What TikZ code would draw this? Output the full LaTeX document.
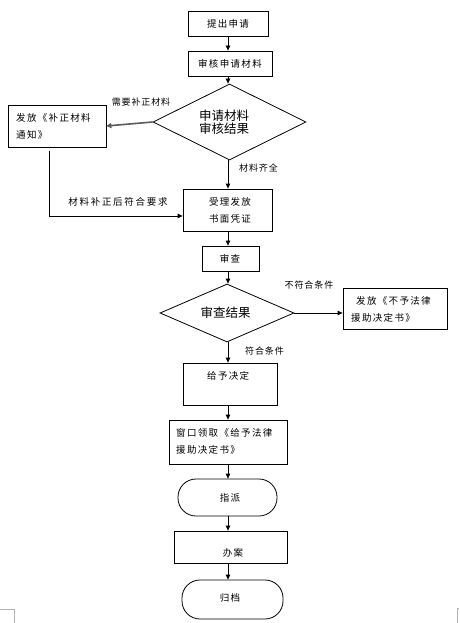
\documentclass[tikz,border=0pt]{standalone}
\usepackage{fontspec}
\setmainfont{Noto Sans CJK SC}
\usetikzlibrary{shapes.geometric,arrows.meta}
\begin{document}
\begin{tikzpicture}[x=1pt,y=-1pt,
  box/.style={draw,line width=0.8pt,inner sep=0pt,rectangle},
  stad/.style={draw,line width=0.8pt,inner sep=0pt,rectangle,rounded corners=18pt},
  dia/.style={draw,line width=0.8pt,diamond,inner sep=0pt,font=\fontsize{12}{14}\selectfont},
  txt/.style={font=\fontsize{9.5}{17}\selectfont\addfontfeatures{LetterSpace=14},inner sep=0pt},
  lbl/.style={font=\fontsize{9}{11}\selectfont\addfontfeatures{LetterSpace=10},inner sep=0pt},
  arr/.style={draw,line width=0.8pt,-{Triangle[length=5pt,width=4.5pt]}}]
\useasboundingbox (0,0) rectangle (459,623);
% boxes
\node[box,minimum width=80pt,minimum height=25pt] (b1) at (228,23.5) {};
\node[txt] at (228,23.5) {提出申请};
\node[box,minimum width=84pt,minimum height=25pt] (b2) at (230,63.5) {};
\node[txt] at (230,63.5) {审核申请材料};
\node[dia,minimum width=153pt,minimum height=76pt] (d1) at (229.5,122) {};
\node[font=\fontsize{12.5}{13}\selectfont,align=center,inner sep=0pt] at (224,122) {申请材料\\审核结果};
\node[box,minimum width=98pt,minimum height=42pt] (n1) at (57,126) {};
\node[txt,align=left,anchor=west] at (16,126) {发放《补正材料\\通知》};
\node[box,minimum width=89pt,minimum height=42pt] (b3) at (227.5,210) {};
\node[txt,align=center] at (230,210) {受理发放\\书面凭证};
\node[box,minimum width=57pt,minimum height=25pt] (b4) at (230.5,258.5) {};
\node[txt] at (230,258.5) {审查};
\node[dia,minimum width=134pt,minimum height=58pt] (d2) at (227,313) {};
\node[font=\fontsize{12.5}{13}\selectfont,inner sep=0pt] at (225.5,313) {审查结果};
\node[box,minimum width=104pt,minimum height=41pt] (n2) at (395,308.5) {};
\node[txt,anchor=west] at (356,301) {发放《不予法律};
\node[txt,anchor=west] at (351,318) {援助决定书》};
\node[box,minimum width=94pt,minimum height=42pt] (b5) at (230,384) {};
\node[txt,anchor=west] at (207,376) {给予决定};
\node[box,minimum width=118pt,minimum height=44pt] (b6) at (228,442) {};
\node[txt,anchor=west,align=left] at (176,441) {窗口领取《给予法律\\援助决定书》};
\node[stad,minimum width=99pt,minimum height=37pt] (s1) at (227.5,497.5) {};
\node[txt] at (230,497.5) {指派};
\node[box,minimum width=113pt,minimum height=32pt] (b7) at (230.5,547) {};
\node[txt] at (233,553) {办案};
\node[stad,minimum width=101pt,minimum height=39pt] (s2) at (232.5,599.5) {};
\node[txt] at (230,598) {归档};
% connectors
\draw[arr] (b1.south -| 228,0) -- (b2.north -| 228,0);
\draw[arr] (b2.south -| 228,0) -- (d1.north -| 228,0);
\draw[draw=gray!70!black,line width=1.6pt,-{Triangle[length=5pt,width=5pt]}] (d1.west) -- (n1.east);
\node[lbl,anchor=south] at (141,106) {需要补正材料};
\draw[arr] ([xshift=-8pt,yshift=-4pt]n1.south) |- ([yshift=-6pt]b3.west);
\node[lbl,font=\fontsize{9.5}{11}\selectfont\addfontfeatures{LetterSpace=18}] at (118,202) {材料补正后符合要求};
\draw[arr] (d1.south -| 228,0) -- (b3.north -| 228,0);
\node[lbl] at (258.5,168) {材料齐全};
\draw[arr] (b3.south -| 228,0) -- (b4.north -| 228,0);
\draw[arr] (b4.south -| 228,0) -- (d2.north -| 228,0);
\draw[arr] (d2.east) -- (n2.west |- d2.east);
\node[lbl] at (309,285) {不符合条件};
\draw[arr] (d2.south -| 228,0) -- (b5.north -| 228,0);
\node[lbl] at (264.5,351) {符合条件};
\draw[arr] (b5.south -| 228,0) -- (b6.north -| 228,0);
\draw[arr] (b6.south -| 228,0) -- (s1.north -| 228,0);
\draw[arr] (s1.south -| 228,0) -- (b7.north -| 228,0);
\draw[arr] (b7.south -| 228,0) -- (s2.north -| 228,0);
% page corner marks
\draw[gray!60,line width=0.6pt] (0,609) -- (14,609) -- (14,623);
\draw[gray!60,line width=0.6pt] (459,608) -- (457,608) -- (457,623);
\end{tikzpicture}
\end{document}
